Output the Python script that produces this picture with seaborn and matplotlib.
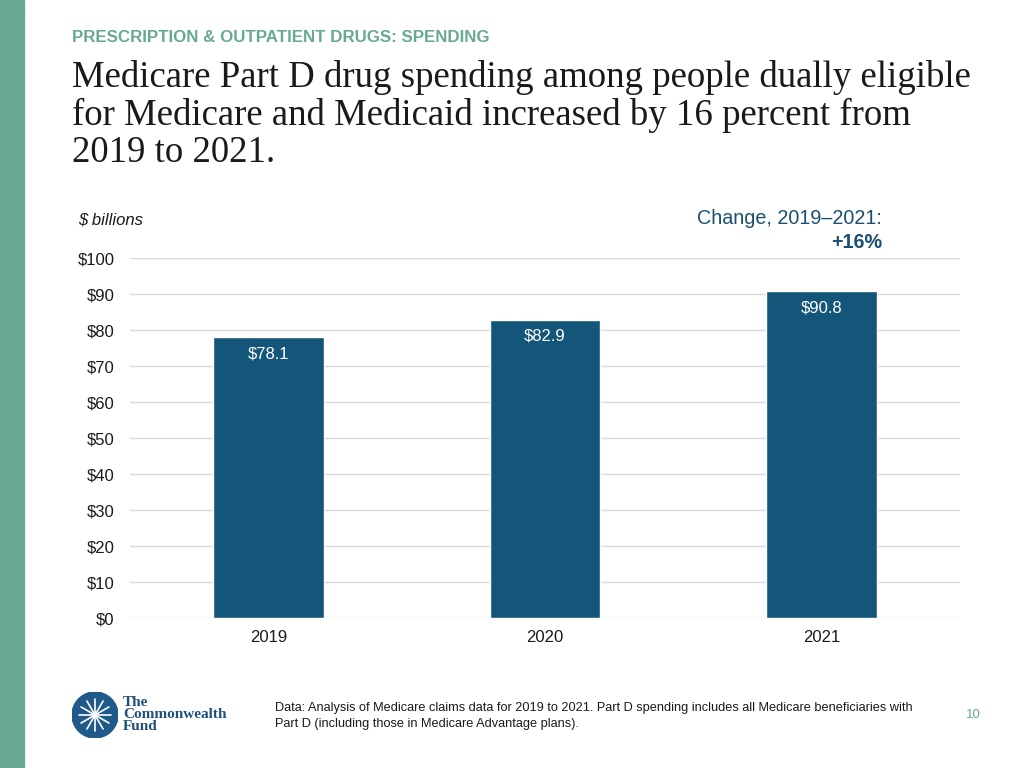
import numpy as np
import pandas as pd
import matplotlib
matplotlib.use("Agg")
import matplotlib.pyplot as plt
import seaborn as sns
from matplotlib.patches import Circle, Rectangle

# data
years = ["2019", "2020", "2021"]
spending = [78.1, 82.9, 90.8]
y_ticks = [0, 10, 20, 30, 40, 50, 60, 70, 80, 90, 100]
change_label = "+16%"

BAR_COLOR = "#14567a"
GREEN = "#68a994"
NAVY = "#1b4f72"

sns.set_theme(style="white")
plt.rcParams["font.family"] = ["Liberation Sans", "DejaVu Sans"]

df = pd.DataFrame({"year": years, "spending": spending})

fig = plt.figure(figsize=(10.24, 7.68), dpi=100)
ax = fig.add_axes([130 / 1024, 1 - 618 / 768, 830 / 1024, 360 / 768])

sns.barplot(data=df, x="year", y="spending", color=BAR_COLOR, width=0.4,
            saturation=1, ax=ax, zorder=3)

ax.set_ylim(0, 100)
ax.set_xlim(-0.5, 2.5)
ax.set_yticks(y_ticks)
ax.set_yticklabels([f"${t}" for t in y_ticks])
ax.yaxis.grid(True, color="#d9d9d9", linewidth=1, zorder=0)
ax.set_axisbelow(True)
for s in ax.spines.values():
    s.set_visible(False)
ax.tick_params(axis="y", length=0, pad=11, labelsize=12, labelcolor="#1a1a1a")
ax.tick_params(axis="x", length=0, pad=9, labelsize=12, labelcolor="#1a1a1a")
ax.set_xlabel("")
ax.set_ylabel("")

# value labels inside bars
for i, v in enumerate(spending):
    ax.annotate(f"${v}", (i, v), xytext=(0, -12), textcoords="offset points",
                ha="center", va="center", color="white", fontsize=12)

# left stripe
fig.patches.append(Rectangle((0, 0), 24 / 1024, 1, transform=fig.transFigure,
                             color=GREEN, zorder=0))

# header
fig.text(72 / 1024, 1 - 38 / 768, "PRESCRIPTION & OUTPATIENT DRUGS: SPENDING",
         color=GREEN, fontsize=12.2, fontweight="bold", va="center")
fig.text(72 / 1024, 1 - 60 / 768,
         "Medicare Part D drug spending among people dually eligible\n"
         "for Medicare and Medicaid increased by 16 percent from\n"
         "2019 to 2021.",
         family=["Liberation Serif", "DejaVu Serif"], fontsize=26.5,
         color="#1a1a1a", va="top", linespacing=1.1)

fig.text(78 / 1024, 1 - 220 / 768, "$ billions", style="italic",
         fontsize=12, color="#1a1a1a", va="center")
fig.text(882 / 1024, 1 - 218 / 768, "Change, 2019\u20132021:", ha="right",
         va="center", fontsize=14.2, color=NAVY)
fig.text(882 / 1024, 1 - 243 / 768, change_label, ha="right", va="center",
         fontsize=14.2, fontweight="bold", color=NAVY)

# footer
fig.text(275 / 1024, 1 - 716 / 768,
         "Data: Analysis of Medicare claims data for 2019 to 2021. Part D spending "
         "includes all Medicare beneficiaries with\nPart D (including those in "
         "Medicare Advantage plans).",
         fontsize=9.2, color="#1a1a1a", va="center", linespacing=1.45)
fig.text(973 / 1024, 1 - 715 / 768, "10", fontsize=9.5, color=GREEN,
         ha="center", va="center")

# logo
lax = fig.add_axes([72 / 1024, 1 - 738 / 768, 46 / 1024, 46 / 768])
lax.set_xlim(-1, 1)
lax.set_ylim(-1, 1)
lax.set_aspect("equal")
lax.axis("off")
lax.add_patch(Circle((0, 0), 1, color="#1f5a8a"))
for a in np.linspace(0, np.pi, 6, endpoint=False):
    lax.plot([-0.7 * np.cos(a), 0.7 * np.cos(a)],
             [-0.7 * np.sin(a), 0.7 * np.sin(a)], color="white", lw=1.2)
fig.text(123 / 1024, 1 - 715 / 768, "The\nCommonwealth\nFund",
         family=["Liberation Serif", "DejaVu Serif"], fontweight="bold",
         fontsize=11, color="#1f4f7a", va="center", linespacing=0.9)

fig.savefig("out.png", dpi=100)
